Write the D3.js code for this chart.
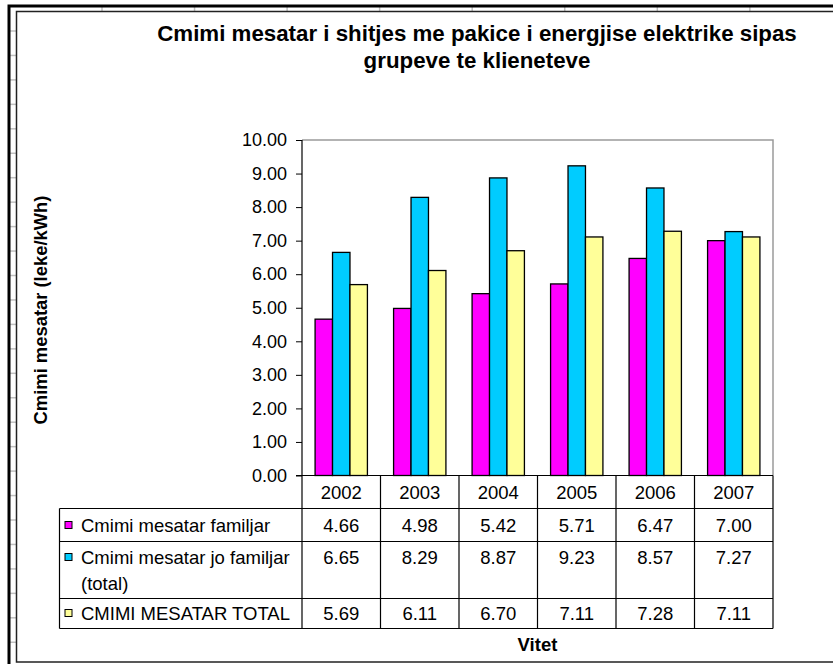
<!DOCTYPE html>
<html>
<head>
<meta charset="utf-8">
<script src="https://cdn.jsdelivr.net/npm/d3@7"></script>
<style>
  body { margin: 0; background: #fff; }
  svg { display: block; font-family: "Liberation Sans", Arial, sans-serif; }
</style>
</head>
<body>
<svg id="chart"></svg>
<script>
const WIDTH = 833;
const HEIGHT = 664;

// Data
const years = ['2002', '2003', '2004', '2005', '2006', '2007'];
const seriesNames = ['Cmimi mesatar familjar', 'Cmimi mesatar jo familjar (total)', 'CMIMI MESATAR TOTAL'];
const familjar = [4.66, 4.98, 5.42, 5.71, 6.47, 7.00];
const joFamiljar = [6.65, 8.29, 8.87, 9.23, 8.57, 7.27];
const total = [5.69, 6.11, 6.70, 7.11, 7.28, 7.11];
const yTicks = [0, 1, 2, 3, 4, 5, 6, 7, 8, 9, 10];

const colors = ['#ff00ff', '#00ccff', '#ffff99'];
const seriesValues = [familjar, joFamiljar, total];
// legend labels split into lines as in the table
const legendLines = [['Cmimi mesatar familjar'], ['Cmimi mesatar jo familjar', '(total)'], ['CMIMI MESATAR TOTAL']];

const plot = {left: 302, right: 773, top: 140, bottom: 475.5};

const svg = d3.select('#chart')
  .attr('width', WIDTH)
  .attr('height', HEIGHT)
  .attr('viewBox', `0 0 ${WIDTH} ${HEIGHT}`);

svg.append('rect').attr('width', WIDTH).attr('height', HEIGHT).attr('fill', '#fff');

// spreadsheet background: row / column ticks in the margin
const rowTicks = d3.range(0, 27).map(i => 31 + i * 24.45);
svg.append('g').selectAll('line').data(rowTicks).join('line')
  .attr('x1', 10).attr('x2', 16)
  .attr('y1', d => d).attr('y2', d => d)
  .attr('stroke', '#c0c0c0').attr('stroke-width', 1.5);
const colTicks = d3.range(0, 9).map(i => 102 + i * 92.55);
svg.append('g').selectAll('line').data(colTicks).join('line')
  .attr('x1', d => d).attr('x2', d => d)
  .attr('y1', 7).attr('y2', 11)
  .attr('stroke', '#c0c0c0').attr('stroke-width', 1.5);

// selection frame and chart border
svg.append('path').attr('d', `M9,${HEIGHT} V6 H${WIDTH}`)
  .attr('fill', 'none').attr('stroke', '#000').attr('stroke-width', 3);
svg.append('path').attr('d', `M${WIDTH},11.5 H16.5 V662 H${WIDTH}`)
  .attr('fill', 'none').attr('stroke', '#222').attr('stroke-width', 1.5);

// title
const title = svg.append('text')
  .attr('text-anchor', 'middle')
  .attr('font-weight', 'bold')
  .attr('font-size', 22.3)
  .attr('fill', '#000');
title.append('tspan').attr('x', 477).attr('y', 41).text('Cmimi mesatar i shitjes me pakice i energjise elektrike sipas');
title.append('tspan').attr('x', 477).attr('y', 68).text('grupeve te klieneteve');

// scales
const x = d3.scaleBand().domain(years).range([plot.left, plot.right]);
const barW = x.bandwidth() / 4.5;
const xs = d3.scaleBand().domain(d3.range(3))
  .range([x.bandwidth() * 0.75 / 4.5, x.bandwidth() * 0.75 / 4.5 + 3 * barW]);
const y = d3.scaleLinear().domain([0, 10]).range([plot.bottom, plot.top]);

// plot frame (grey top and right)
svg.append('path')
  .attr('d', `M${plot.left},${plot.top} H${plot.right} V${plot.bottom}`)
  .attr('fill', 'none').attr('stroke', '#9a9a9a').attr('stroke-width', 1.5);

// bars
const groups = svg.append('g').selectAll('g').data(years).join('g')
  .attr('transform', d => `translate(${x(d)},0)`);
groups.selectAll('rect')
  .data((d, i) => seriesValues.map((vals, s) => ({s, v: vals[i]})))
  .join('rect')
  .attr('x', d => xs(d.s))
  .attr('y', d => y(d.v))
  .attr('width', barW)
  .attr('height', d => y(0) - y(d.v))
  .attr('fill', d => colors[d.s])
  .attr('stroke', '#000')
  .attr('stroke-width', 1.3);

// y axis
const yAxis = svg.append('g')
  .attr('transform', `translate(${plot.left},0)`)
  .call(d3.axisLeft(y).tickValues(yTicks).tickFormat(d3.format('.2f'))
    .tickSize(6).tickSizeOuter(0).tickPadding(9));
yAxis.select('.domain').remove();
yAxis.selectAll('line').attr('stroke', '#000');
yAxis.selectAll('text').attr('font-size', 18).attr('fill', '#000')
  .attr('font-family', '"Liberation Sans", Arial, sans-serif');

// table rows
const rowY = [plot.bottom, 508.5, 541.5, 598.5, 628.5];
const tableLeft = 59.5;
const tbl = svg.append('g').attr('stroke', '#000').attr('stroke-width', 1.2);
tbl.append('line').attr('x1', plot.left).attr('x2', plot.left)
  .attr('y1', plot.top).attr('y2', rowY[4]);
tbl.append('line').attr('x1', plot.left - 6).attr('x2', plot.right)
  .attr('y1', plot.bottom).attr('y2', plot.bottom);
tbl.selectAll('.hline').data(rowY.slice(1)).join('line').attr('class', 'hline')
  .attr('x1', tableLeft).attr('x2', plot.right)
  .attr('y1', d => d).attr('y2', d => d);
tbl.append('line').attr('x1', tableLeft).attr('x2', tableLeft)
  .attr('y1', rowY[1]).attr('y2', rowY[4]);
tbl.selectAll('.vline').data(years.slice(1).map(d => x(d)).concat([plot.right])).join('line')
  .attr('class', 'vline')
  .attr('x1', d => d).attr('x2', d => d)
  .attr('y1', plot.bottom).attr('y2', rowY[4]);

// year labels
svg.append('g').selectAll('text').data(years).join('text')
  .attr('x', d => x(d) + x.bandwidth() / 2)
  .attr('y', 498.5)
  .attr('text-anchor', 'middle')
  .attr('font-size', 18.5)
  .text(d => d);

// table values and legend
const valueBaselines = [531.5, 563.5, 619.5];
seriesValues.forEach((vals, s) => {
  svg.append('g').selectAll('text').data(vals).join('text')
    .attr('x', (d, i) => x(years[i]) + x.bandwidth() / 2)
    .attr('y', valueBaselines[s])
    .attr('text-anchor', 'middle')
    .attr('font-size', 18.5)
    .text(d => d3.format('.2f')(d));

  svg.append('rect')
    .attr('x', 65).attr('y', valueBaselines[s] - 10)
    .attr('width', 7).attr('height', 7)
    .attr('fill', colors[s]).attr('stroke', '#000').attr('stroke-width', 1);

  const lbl = svg.append('text').attr('font-size', 18.5).attr('fill', '#000');
  legendLines[s].forEach((line, k) => {
    lbl.append('tspan').attr('x', 81).attr('y', valueBaselines[s] + k * 26).text(line);
  });
});

// axis titles
svg.append('text')
  .attr('x', (plot.left + plot.right) / 2)
  .attr('y', 651)
  .attr('text-anchor', 'middle')
  .attr('font-weight', 'bold')
  .attr('font-size', 18.5)
  .text('Vitet');

svg.append('text')
  .attr('transform', 'translate(47,310) rotate(-90)')
  .attr('text-anchor', 'middle')
  .attr('font-weight', 'bold')
  .attr('font-size', 18.4)
  .text('Cmimi mesatar (leke/kWh)');
</script>
</body>
</html>
